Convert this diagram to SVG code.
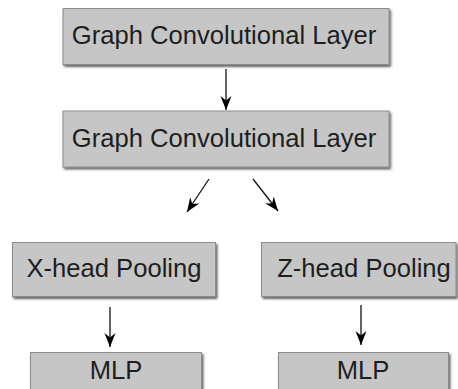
<svg xmlns="http://www.w3.org/2000/svg" width="458" height="389" viewBox="0 0 458 389">
  <defs>
    <filter id="shadow" x="-10%" y="-10%" width="120%" height="130%">
      <feDropShadow dx="1.5" dy="2" stdDeviation="1.2" flood-color="#222" flood-opacity="0.7"/>
    </filter>
    <marker id="arrow" viewBox="-15 -7 16 14" refX="0" refY="0" markerWidth="16" markerHeight="14" markerUnits="userSpaceOnUse" orient="auto">
      <path d="M0,0 L-14,-5.5 L-9.5,0 L-14,5.5 Z" fill="#000"/>
    </marker>
  </defs>
  <style>
    .box { fill: #c6c6c6; stroke: #8c8c8c; stroke-width: 1; filter: url(#shadow); }
    .label { font-family: "Liberation Sans", Arial, sans-serif; font-size: 25.6px; fill: #1e1e1e; text-anchor: middle; }
    .edge { stroke: #111; stroke-width: 1.3; fill: none; marker-end: url(#arrow); }
  </style>
  <rect width="458" height="389" fill="#fff"/>

  <g id="gcl1">
    <rect class="box" x="63" y="8.5" width="326" height="56"/>
    <text class="label" x="224" y="44">Graph Convolutional Layer</text>
  </g>
  <g id="gcl2">
    <rect class="box" x="63" y="111" width="326" height="56"/>
    <text class="label" x="224" y="146.5">Graph Convolutional Layer</text>
  </g>
  <g id="xpool">
    <rect class="box" x="12.5" y="242.5" width="203" height="54"/>
    <text class="label" x="114" y="276.5">X-head Pooling</text>
  </g>
  <g id="zpool">
    <rect class="box" x="261.5" y="242.5" width="194.5" height="54"/>
    <text class="label" x="364" y="276.5">Z-head Pooling</text>
  </g>
  <g id="xmlp">
    <rect class="box" x="30.5" y="352.5" width="171" height="50"/>
    <text class="label" x="116" y="378.5">MLP</text>
  </g>
  <g id="zmlp">
    <rect class="box" x="278.5" y="352.5" width="170" height="50"/>
    <text class="label" x="363" y="378.5">MLP</text>
  </g>

  <g id="connectors">
    <line class="edge" x1="226" y1="69" x2="226" y2="110"/>
    <line class="edge" x1="209" y1="179" x2="187" y2="212"/>
    <line class="edge" x1="253" y1="179" x2="278" y2="211"/>
    <line class="edge" x1="110" y1="307" x2="110" y2="347"/>
    <line class="edge" x1="361" y1="305" x2="361" y2="345"/>
  </g>
</svg>
